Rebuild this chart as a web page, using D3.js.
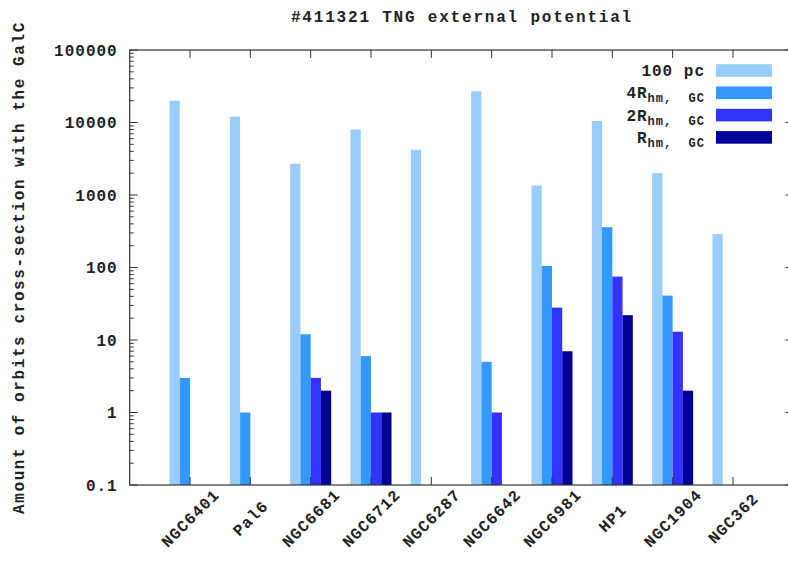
<!DOCTYPE html>
<html lang="en">
<head>
<meta charset="UTF-8">
<script src="https://d3js.org/d3.v7.min.js"></script>
<title>TNG external potential</title>
<style>
  body { margin: 0; background: #fff; }
  text { font-family: "Liberation Mono", "DejaVu Sans Mono", monospace; font-weight: bold; fill: #222; }
</style>
</head>
<body>
<div id="container"></div>
<script>
// data (0 counts are not drawn on the log axis)
var categories = ["NGC6401", "Pal6", "NGC6681", "NGC6712", "NGC6287", "NGC6642", "NGC6981", "HP1", "NGC1904", "NGC362"];
var pc100 = [20000, 12000, 2700, 8000, 4200, 27000, 1350, 10500, 2000, 290];
var rhm4  = [3, 1, 12, 6, null, 5, 105, 360, 41, null];
var rhm2  = [null, null, 3, 1, null, 1, 28, 75, 13, null];
var rhm1  = [null, null, 2, 1, null, null, 7, 22, 2, null];
var yTicks = [0.1, 1, 10, 100, 1000, 10000, 100000];

var series = [
  {key: "pc100", main: "100 pc", sub: "", values: pc100, color: "#99ccff"},
  {key: "rhm4", main: "4R", sub: "hm, GC", values: rhm4, color: "#3399ff"},
  {key: "rhm2", main: "2R", sub: "hm, GC", values: rhm2, color: "#3333ff"},
  {key: "rhm1", main: "R", sub: "hm, GC", values: rhm1, color: "#000099"}
];

var width = 788, height = 562;
// plot frame (right edge lies just past the picture, like the reference)
var pl = 129.7, pr = 793.3, pt = 50, pb = 485;

var svg = d3.select("#container").append("svg")
  .attr("width", width).attr("height", height);

var x = d3.scaleLinear().domain([-1, categories.length]).range([pl, pr]);
var y = d3.scaleLog().domain([0.1, 100000]).range([pb, pt]);
var inner = d3.scaleBand().domain(series.map(s => s.key)).range([-20.5, 20.5]);

// bars
var g = svg.append("g");
series.forEach(s => {
  g.append("g").selectAll("rect")
    .data(s.values.map((v, i) => ({v: v, i: i})).filter(d => d.v != null))
    .join("rect")
      .attr("x", d => x(d.i) + inner(s.key))
      .attr("width", inner.bandwidth())
      .attr("y", d => y(d.v))
      .attr("height", d => pb - y(d.v))
      .attr("fill", s.color);
});

// frame
svg.append("rect")
  .attr("x", pl).attr("y", pt)
  .attr("width", pr - pl).attr("height", pb - pt)
  .attr("fill", "none").attr("stroke", "#333").attr("stroke-width", 1.2);

// y ticks (major + minor), left and mirrored on right
var minor = [];
for (var e = -1; e < 5; e++) for (var m = 2; m <= 9; m++) minor.push(m * Math.pow(10, e));
var tk = svg.append("g").attr("stroke", "#333").attr("stroke-width", 1);
tk.append("g").selectAll("path").data(yTicks).join("path")
  .attr("d", d => `M${pl},${y(d)}h8M${pr},${y(d)}h-8`);
tk.append("g").selectAll("path").data(minor).join("path")
  .attr("d", d => `M${pl},${y(d)}h4M${pr},${y(d)}h-4`);
// x ticks at category centers, bottom and top
tk.append("g").selectAll("path").data(categories.map((c, i) => i)).join("path")
  .attr("d", d => `M${x(d)},${pb}v-8M${x(d)},${pt}v8`);

svg.append("g").selectAll("text").data(yTicks).join("text")
  .attr("x", pl - 12).attr("y", d => y(d))
  .attr("dy", "0.35em").attr("text-anchor", "end")
  .attr("font-size", 16).attr("letter-spacing", 1)
  .text(d => d3.format("")(d));

svg.append("g").selectAll("text").data(categories).join("text")
  .attr("transform", (d, i) => `translate(${x(i)},518) rotate(-45)`)
  .attr("text-anchor", "middle").attr("dy", "0.35em")
  .attr("font-size", 16).attr("letter-spacing", 1)
  .text(d => d);

// titles
svg.append("text")
  .attr("x", 462).attr("y", 16).attr("dy", "0.35em")
  .attr("text-anchor", "middle").attr("font-size", 16).attr("letter-spacing", 1.8)
  .text("#411321 TNG external potential");

svg.append("text")
  .attr("transform", `translate(18,${(pt + pb) / 2}) rotate(-90)`)
  .attr("text-anchor", "middle").attr("dy", "0.35em")
  .attr("font-size", 16).attr("letter-spacing", 1.6)
  .text("Amount of orbits cross-section with the GalC");

// legend
var leg = svg.append("g").selectAll("g").data(series).join("g")
  .attr("transform", (d, i) => `translate(0,${70.5 + i * 22.3})`);
leg.append("rect")
  .attr("x", 716).attr("y", -6.3).attr("width", 56).attr("height", 12.6)
  .attr("fill", d => d.color);
var lt = leg.append("text")
  .attr("x", 705).attr("dy", "0.35em").attr("text-anchor", "end")
  .attr("font-size", 16).attr("letter-spacing", 1);
lt.append("tspan").text(d => d.main);
lt.append("tspan").attr("dy", 4).attr("font-size", 12).attr("letter-spacing", 1)
  .style("white-space", "pre")
  .text(d => d.sub ? d.sub.replace(" ", "  ") : "");
</script>
</body>
</html>
